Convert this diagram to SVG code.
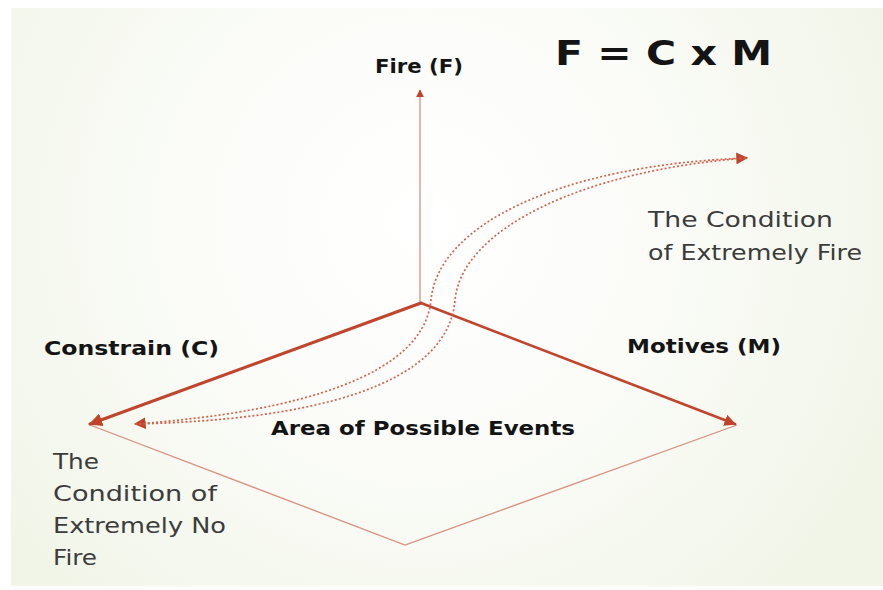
<svg xmlns="http://www.w3.org/2000/svg" width="883" height="590" viewBox="0 0 883 590">
  <defs>
    <radialGradient id="bg" cx="420" cy="220" r="520" gradientUnits="userSpaceOnUse">
      <stop offset="0" stop-color="#ffffff"/>
      <stop offset="0.45" stop-color="#fbfcf8"/>
      <stop offset="1" stop-color="#f1f5e8"/>
    </radialGradient>
    <marker id="ahBig" viewBox="0 0 10 10" refX="9" refY="5" markerWidth="4.5" markerHeight="4.5" orient="auto" markerUnits="strokeWidth">
      <path d="M0,0 L10,5 L0,10 z" fill="#bf4429"/>
    </marker>
    <marker id="ahThin" viewBox="0 0 10 10" refX="9" refY="5" markerWidth="6" markerHeight="6" orient="auto" markerUnits="strokeWidth">
      <path d="M0,0 L10,5 L0,10 z" fill="#c0452c"/>
    </marker>
    <marker id="ahDot" viewBox="0 0 10 10" refX="9" refY="5" markerWidth="7" markerHeight="7" orient="auto" markerUnits="strokeWidth">
      <path d="M0,0 L10,5 L0,10 z" fill="#c0452c"/>
    </marker>
    <marker id="ahDotStart" viewBox="0 0 10 10" refX="1" refY="5" markerWidth="7" markerHeight="7" orient="auto" markerUnits="strokeWidth">
      <path d="M10,0 L0,5 L10,10 z" fill="#c0452c"/>
    </marker>
    <style>
      .bold { font-family: "DejaVu Sans", "Liberation Sans", sans-serif; font-weight: bold; fill: #141414; }
      .reg { font-family: "DejaVu Sans", "Liberation Sans", sans-serif; fill: #3c3c3c; font-size: 21px; }
      .axis { fill: none; stroke: #c0452c; stroke-linecap: round; }
      .thin { fill: none; stroke: #d9907e; stroke-width: 1.3; }
      .dots { fill: none; stroke: #d2634c; stroke-width: 1.7; stroke-dasharray: 2 2.2; }
    </style>
  </defs>

  <rect x="0" y="0" width="883" height="590" fill="#ffffff"/>
  <rect x="11" y="8" width="872" height="578" fill="url(#bg)"/>

  <g id="connectors">
    <line id="axis-F" x1="420" y1="302" x2="420" y2="90" class="thin" stroke-width="1.6" marker-end="url(#ahThin)"/>
    <path id="diamond-bottom" class="thin" d="M90,425 L405,545 L737,425"/>
    <line id="axis-C" x1="421" y1="303" x2="90" y2="424" class="axis" stroke-width="3" marker-end="url(#ahBig)"/>
    <line id="axis-M" x1="421" y1="303" x2="735" y2="424" class="axis" stroke-width="2.6" marker-end="url(#ahBig)"/>
    <path id="curve-a" class="dots" d="M135,424 C300,412 424,375 431,300 C438,225 560,165 747,158" marker-start="url(#ahDotStart)" marker-end="url(#ahDot)"/>
    <path id="curve-b" class="dots" d="M135,424 C315,420 448,385 455,300 C462,228 585,170 747,158"/>
  </g>

  <g id="node-fire">
    <text class="bold" x="375" y="73" font-size="20" textLength="88" lengthAdjust="spacingAndGlyphs">Fire (F)</text>
  </g>
  <g id="node-formula">
    <text class="bold" x="555" y="65" font-size="33" textLength="217" lengthAdjust="spacingAndGlyphs">F = C x M</text>
  </g>
  <g id="node-constrain">
    <text class="bold" x="44" y="355" font-size="20" textLength="175" lengthAdjust="spacingAndGlyphs">Constrain (C)</text>
  </g>
  <g id="node-motives">
    <text class="bold" x="627" y="353" font-size="20" textLength="154" lengthAdjust="spacingAndGlyphs">Motives (M)</text>
  </g>
  <g id="node-area">
    <text class="bold" x="271" y="435" font-size="20" textLength="304" lengthAdjust="spacingAndGlyphs">Area of Possible Events</text>
  </g>
  <g id="node-extreme-fire">
    <text class="reg" x="648" y="227" textLength="185" lengthAdjust="spacingAndGlyphs">The Condition</text>
    <text class="reg" x="648" y="260" textLength="214" lengthAdjust="spacingAndGlyphs">of Extremely Fire</text>
  </g>
  <g id="node-extreme-no-fire">
    <text class="reg" x="53" y="469" textLength="46" lengthAdjust="spacingAndGlyphs">The</text>
    <text class="reg" x="53" y="501" textLength="164" lengthAdjust="spacingAndGlyphs">Condition of</text>
    <text class="reg" x="53" y="533" textLength="173" lengthAdjust="spacingAndGlyphs">Extremely No</text>
    <text class="reg" x="53" y="565" textLength="44" lengthAdjust="spacingAndGlyphs">Fire</text>
  </g>
</svg>
